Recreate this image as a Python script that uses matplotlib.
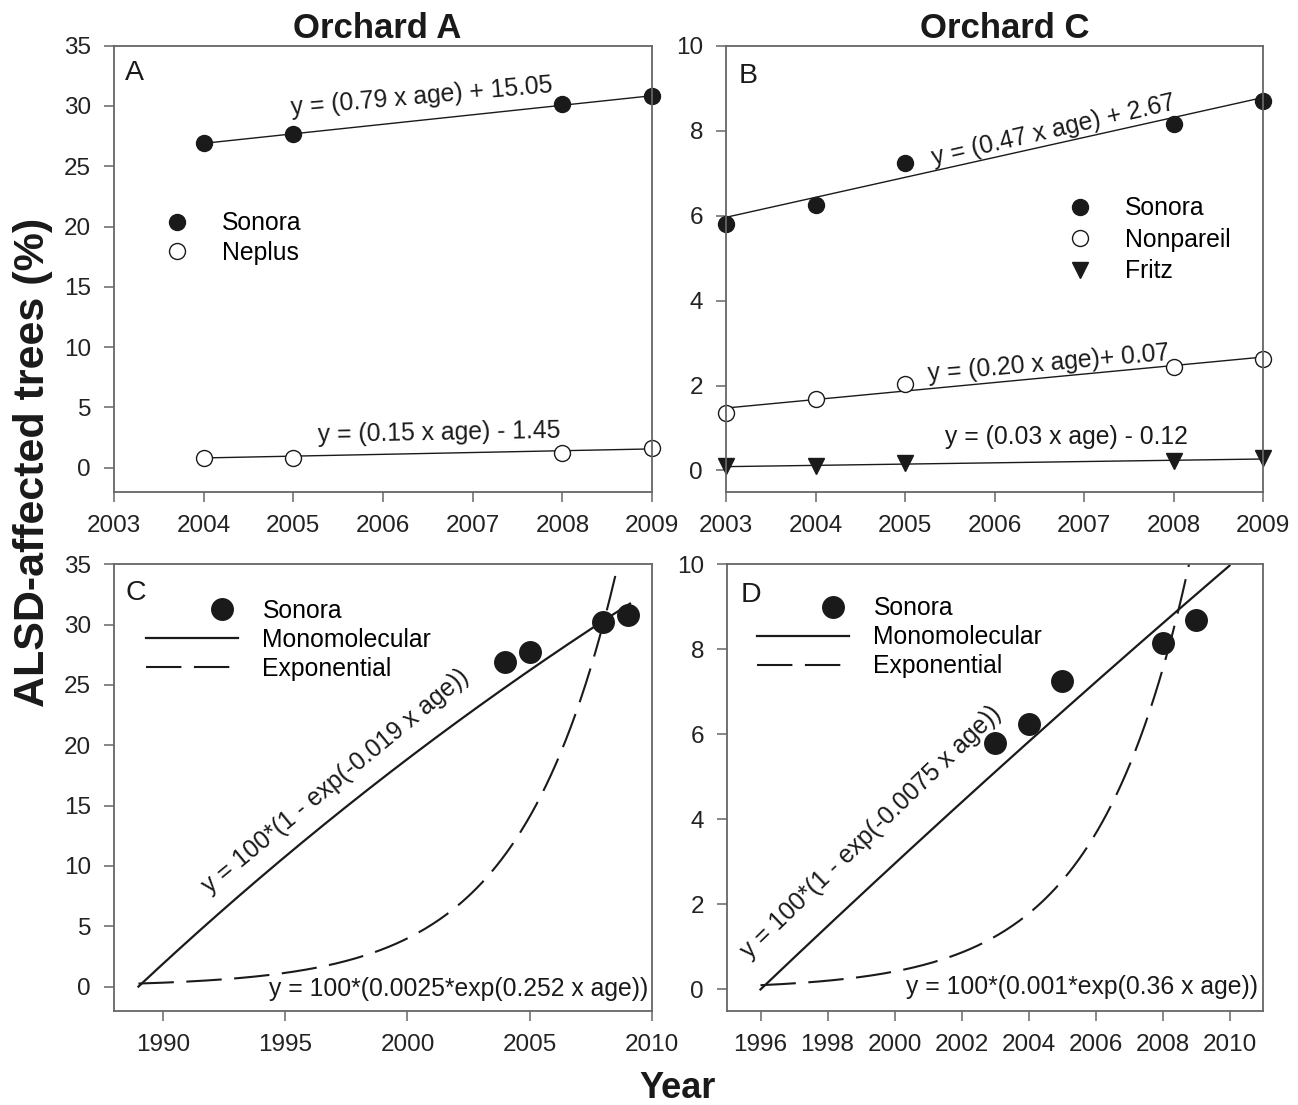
import numpy as np
import matplotlib.pyplot as plt
from matplotlib.legend_handler import HandlerLine2DCompound

plt.rcParams['font.family'] = ['Liberation Sans', 'DejaVu Sans']

# ---- data ----
years_a = [2004, 2005, 2008, 2009]
sonora_a = [26.9, 27.7, 30.2, 30.8]
neplus_a = [0.8, 0.8, 1.2, 1.6]

years_c = [2003, 2004, 2005, 2008, 2009]
sonora_c = [5.8, 6.25, 7.25, 8.15, 8.7]
nonpareil_c = [1.35, 1.68, 2.03, 2.43, 2.62]
fritz_c = [0.1, 0.1, 0.18, 0.22, 0.3]

# planting years (age = year - planting year) and fitted coefficients
plant_a = 1989
plant_c = 1996
lin_a = {'Sonora': (0.79, 15.05), 'Neplus': (0.15, -1.45)}
lin_c = {'Sonora': (0.47, 2.67), 'Nonpareil': (0.20, 0.07), 'Fritz': (0.03, -0.12)}
mono_a, expo_a = 0.019, (0.0025, 0.252)
mono_c, expo_c = 0.0075, (0.001, 0.36)

ink = '#1a1a1a'
spine_col = '#666666'
fs = 17.8      # annotations / legends
tfs = 17.5     # tick labels


class RightMarker(HandlerLine2DCompound):
    # marker sits towards the right end of the legend handle
    def get_xdata(self, legend, xdescent, ydescent, width, height, fontsize):
        xd, xm = super().get_xdata(legend, xdescent, ydescent, width, height, fontsize)
        return xd, [-xdescent + 0.82 * width]


fig = plt.figure(figsize=(12.98, 11.05), dpi=100)
W, H = 1298, 1105
def box(l, t, r, b):
    return [l / W, 1 - b / H, (r - l) / W, (b - t) / H]

axA = fig.add_axes(box(114, 45.7, 652, 491.7))
axB = fig.add_axes(box(726, 45.7, 1263, 491.7))
axC = fig.add_axes(box(114, 564.3, 652, 1010.7))
axD = fig.add_axes(box(727, 564.3, 1263, 1010.7))

for ax in (axA, axB, axC, axD):
    for s in ax.spines.values():
        s.set_color(spine_col)
        s.set_linewidth(1.3)
    ax.tick_params(direction='out', length=7.5, width=1.1, color=spine_col,
                   labelsize=tfs, labelcolor='#222222', pad=9)

def linfit(years, coef, plant):
    x = np.array([years[0], years[-1]], dtype=float)
    return x, coef[0] * (x - plant) + coef[1]

# ---- panel A ----
ax = axA
x, y = linfit(years_a, lin_a['Sonora'], plant_a)
ax.plot(x, y, color=ink, lw=1.0)
x, y = linfit(years_a, lin_a['Neplus'], plant_a)
ax.plot(x, y, color=ink, lw=1.0)
ax.plot(years_a, sonora_a, 'o', color=ink, ms=11.5, label='Sonora', clip_on=False)
ax.plot(years_a, neplus_a, 'o', mfc='white', mec=ink, mew=1.0, ms=11.5, label='Neplus',
        clip_on=False)
ax.set_xlim(2003, 2009)
ax.set_ylim(-2, 35)
ax.set_xticks(range(2003, 2010))
ax.set_yticks(range(0, 36, 5))
ax.text(2006.43, 30.8, 'y = (0.79 x age) + 15.05', fontsize=fs, rotation=5,
        ha='center', va='center', color=ink)
ax.text(2006.62, 2.85, 'y = (0.15 x age) - 1.45', fontsize=fs, rotation=1,
        ha='center', va='center', color=ink)
ax.text(0.02, 0.939, 'A', transform=ax.transAxes, fontsize=20.5, va='center', color=ink)
ax.legend(loc='upper left', bbox_to_anchor=(0.082, 0.629), frameon=False, fontsize=fs,
          handlelength=1.5, handletextpad=1.1, labelspacing=0.23, borderpad=0,
          borderaxespad=0, numpoints=1)

# ---- panel B ----
ax = axB
for name in ('Sonora', 'Nonpareil', 'Fritz'):
    x, y = linfit(years_c, lin_c[name], plant_c)
    ax.plot(x, y, color=ink, lw=1.0)
ax.plot(years_c, sonora_c, 'o', color=ink, ms=11.5, label='Sonora', clip_on=False)
ax.plot(years_c, nonpareil_c, 'o', mfc='white', mec=ink, mew=1.0, ms=11.5,
        label='Nonpareil', clip_on=False)
ax.plot(years_c, fritz_c, 'v', color=ink, ms=11.5, label='Fritz', clip_on=False)
ax.set_xlim(2003, 2009)
ax.set_ylim(-0.5, 10)
ax.set_xticks(range(2003, 2010))
ax.set_yticks(range(0, 11, 2))
ax.text(2006.66, 8.0, 'y = (0.47 x age) + 2.67', fontsize=fs, rotation=13,
        ha='center', va='center', color=ink)
ax.text(2006.61, 2.52, 'y = (0.20 x age)+ 0.07', fontsize=fs, rotation=5,
        ha='center', va='center', color=ink)
ax.text(2006.8, 0.78, 'y = (0.03 x age) - 0.12', fontsize=fs,
        ha='center', va='center', color=ink)
ax.text(0.024, 0.932, 'B', transform=ax.transAxes, fontsize=20.5, va='center', color=ink)
ax.legend(loc='upper left', bbox_to_anchor=(0.624, 0.662), frameon=False, fontsize=fs,
          handlelength=1.5, handletextpad=1.1, labelspacing=0.3, borderpad=0,
          borderaxespad=0, numpoints=1)

# ---- panel C ----
dash = (0, (17, 6))
ax = axC
xs = np.linspace(plant_a, 2009.1, 200)
pts, = ax.plot(years_a, sonora_a, 'o', color=ink, ms=15.5, label='Sonora')
ax.plot(xs, 100 * (1 - np.exp(-mono_a * (xs - plant_a))), color=ink, lw=1.6,
        label='Monomolecular')
ax.plot(xs, 100 * expo_a[0] * np.exp(expo_a[1] * (xs - plant_a)), color=ink, lw=1.5,
        ls=dash, label='Exponential')
ax.set_xlim(1988, 2010)
ax.set_ylim(-2, 35)
ax.set_xticks(range(1990, 2011, 5))
ax.set_yticks(range(0, 36, 5))
ax.text(1997.06, 17.05, 'y = 100*(1 - exp(-0.019 x age))', fontsize=fs, rotation=39.5,
        ha='center', va='center', color=ink)
ax.text(2009.85, -0.2, 'y = 100*(0.0025*exp(0.252 x age))', fontsize=fs,
        ha='right', va='center', color=ink)
ax.text(0.022, 0.936, 'C', transform=ax.transAxes, fontsize=20.5, va='center', color=ink)
ax.legend(loc='upper left', bbox_to_anchor=(0.0595, 0.9225), frameon=False, fontsize=fs,
          handlelength=3.74, handletextpad=0.97, labelspacing=0.2, borderpad=0,
          borderaxespad=0, numpoints=1, handler_map={pts: RightMarker(numpoints=1)})

# ---- panel D ----
ax = axD
xs = np.linspace(plant_c, 2010, 200)
pts, = ax.plot(years_c, sonora_c, 'o', color=ink, ms=15.5, label='Sonora')
ax.plot(xs, 100 * (1 - np.exp(-mono_c * (xs - plant_c))), color=ink, lw=1.6,
        label='Monomolecular')
ax.plot(xs, 100 * expo_c[0] * np.exp(expo_c[1] * (xs - plant_c)), color=ink, lw=1.5,
        ls=dash, label='Exponential')
ax.set_xlim(1995, 2011)
ax.set_ylim(-0.5, 10)
ax.set_xticks(range(1996, 2011, 2))
ax.set_yticks(range(0, 11, 2))
ax.text(1999.3, 3.7, 'y = 100*(1 - exp(-0.0075 x age))', fontsize=fs, rotation=44,
        ha='center', va='center', color=ink)
ax.text(2010.85, 0.05, 'y = 100*(0.001*exp(0.36 x age))', fontsize=fs,
        ha='right', va='center', color=ink)
ax.text(0.026, 0.931, 'D', transform=ax.transAxes, fontsize=20.5, va='center', color=ink)
ax.legend(loc='upper left', bbox_to_anchor=(0.056, 0.928), frameon=False, fontsize=fs,
          handlelength=3.74, handletextpad=0.97, labelspacing=0.2, borderpad=0,
          borderaxespad=0, numpoints=1, handler_map={pts: RightMarker(numpoints=1)})

fig.text(377 / W, 1 - 28 / H, 'Orchard A', fontsize=25, fontweight='bold',
         ha='center', va='center', color=ink)
fig.text(1005 / W, 1 - 28 / H, 'Orchard C', fontsize=25, fontweight='bold',
         ha='center', va='center', color=ink)
fig.text(33 / W, 1 - 462 / H, 'ALSD-affected trees (%)', fontsize=31, fontweight='bold',
         rotation=90, ha='center', va='center', color=ink)
fig.text(678 / W, 1 - 1088 / H, 'Year', fontsize=26, fontweight='bold',
         ha='center', va='center', color=ink)

fig.savefig('out.png', dpi=100)
